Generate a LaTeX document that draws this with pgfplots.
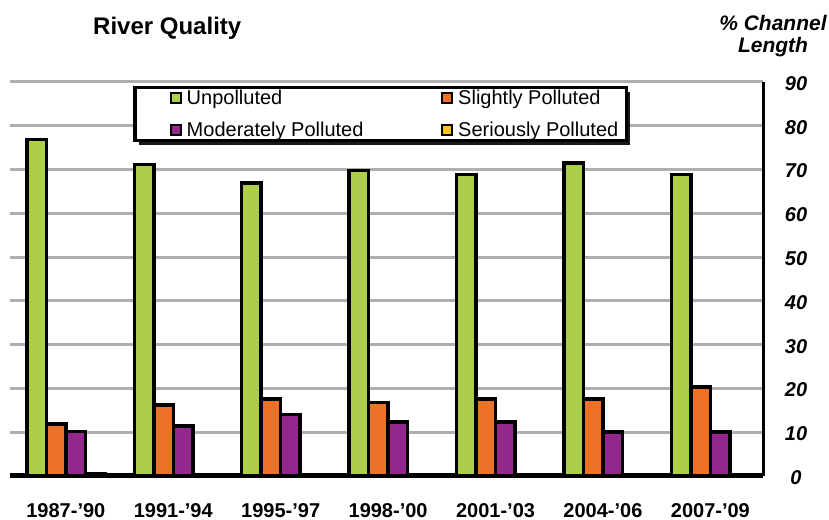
\documentclass[border=0pt]{standalone}
\usepackage{pgfplots}
\pgfplotsset{compat=1.18}
\usepackage{fontspec}
\setmainfont{Liberation Sans}
\usetikzlibrary{shadows}
\makeatletter
\tikzset{no preactions/.code={\let\tikz@preactions\pgfutil@empty}}
\makeatother
\definecolor{cgreen}{RGB}{173,206,72}
\definecolor{corange}{RGB}{236,114,40}
\definecolor{cpurple}{RGB}{146,40,140}
\definecolor{cyellow}{RGB}{250,200,20}
\definecolor{cgrid}{RGB}{175,175,175}
\begin{document}
\begin{tikzpicture}
\begin{axis}[
  name=ax,
  scale only axis,
  width=753pt, height=394pt,
  ybar=0pt, bar width=19.5pt,
  xmin=-0.52, xmax=6.49,
  ymin=0, ymax=90,
  enlarge y limits=false,
  xtick={0,1,2,3,4,5,6},
  xticklabels={1987-'90,1991-'94,1995-'97,1998-'00,2001-'03,2004-'06,2007-'09},
  ytick={0,10,...,90},
  axis x line*=bottom,
  axis y line*=right,
  axis line style={line width=3pt, black},
  x axis line style={line width=5pt},
  major tick length=0pt,
  ymajorgrids,
  grid style={cgrid, line width=3pt},
  /pgf/number format/assume math mode=true,
  xticklabel style={font=\fontsize{20}{24}\selectfont\bfseries, inner sep=0pt, yshift=-27pt},
  yticklabel style={font=\fontsize{20}{24}\selectfont\bfseries\itshape, anchor=center, xshift=33pt, yshift=-1.5pt},
  every axis plot/.append style={draw=black, line width=3.5pt},
  legend columns=2,
  legend image code/.code={\path[no preactions] (-32pt,0pt) (12pt,0pt); \draw[no preactions, #1, line width=2pt] (0pt,-5pt) rectangle (10pt,5pt);},
  legend style={at={(0.164,0.991)}, anchor=north west, draw=black, line width=3.5pt, fill=white,
    font=\fontsize{20}{24}\selectfont, inner xsep=2pt, inner ysep=0.5pt, row sep=12pt,
    cells={anchor=west},
    drop shadow={shadow xshift=4pt, shadow yshift=-5pt, fill=black, opacity=0.9}},
]
\addplot[fill=cgreen] coordinates {(0,76.9) (1,71.1) (2,66.9) (3,69.8) (4,68.9) (5,71.5) (6,68.9)};
\addlegendentry{\makebox[220pt][l]{Unpolluted}}
\addplot[fill=corange] coordinates {(0,11.9) (1,16.2) (2,17.6) (3,16.8) (4,17.6) (5,17.6) (6,20.3)};
\addlegendentry{\makebox[164pt][l]{Slightly Polluted}}
\addplot[fill=cpurple] coordinates {(0,10.2) (1,11.4) (2,14.0) (3,12.3) (4,12.3) (5,10.0) (6,10.0)};
\addlegendentry{\makebox[220pt][l]{Moderately Polluted}}
\addplot[fill=cyellow] coordinates {(0,0.5) (1,0.2) (2,0.3) (3,0.3) (4,0.2) (5,0.2) (6,0.2)};
\addlegendentry{\makebox[164pt][l]{Seriously Polluted}}
\end{axis}
\node[anchor=west, font=\fontsize{24}{28}\selectfont\bfseries] at ([shift={(79.7pt,54pt)}]ax.north west) {River Quality};
\node[anchor=north, align=center, font=\fontsize{21}{22}\selectfont\bfseries\itshape] at ([shift={(10pt,70pt)}]ax.north east) {\% Channel\\Length};
\pgfresetboundingbox
\path ([shift={(-10pt,-44pt)}]ax.south west) rectangle ([shift={(66pt,82pt)}]ax.north east);
\end{tikzpicture}
\end{document}
